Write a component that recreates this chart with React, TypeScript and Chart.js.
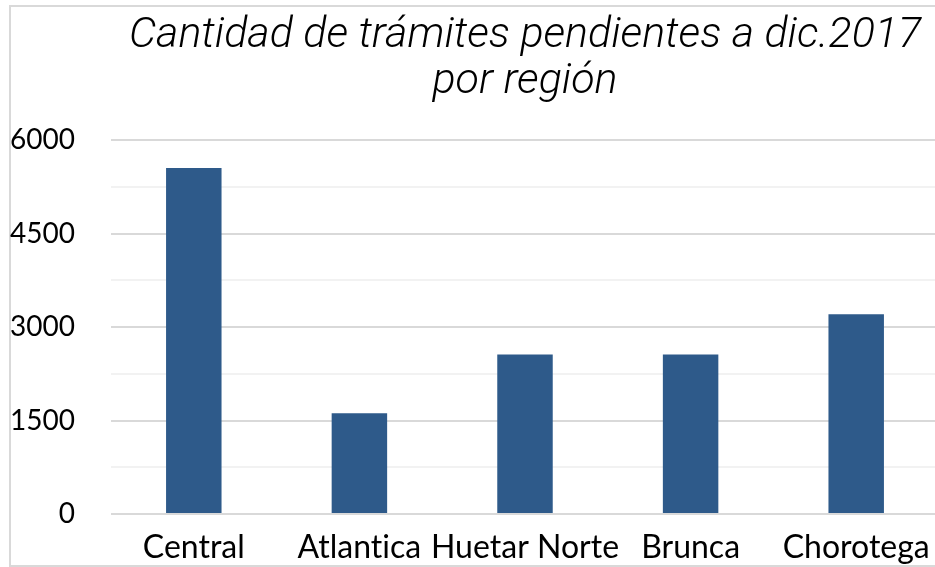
import React, { useEffect, useRef } from "react";
import { Chart, registerables } from "chart.js";

Chart.register(...registerables);

const categories = ["Central", "Atlantica", "Huetar Norte", "Brunca", "Chorotega"];
const values = [5550, 1615, 2560, 2560, 3205];
const yTickLabels = [0, 1500, 3000, 4500, 6000];
const titleLines = ["Cantidad de trámites pendientes a dic.2017", "por región"];

export default function App() {
  const ref = useRef<HTMLCanvasElement>(null);

  useEffect(() => {
    if (!ref.current) return;
    const framePlugin = {
      id: "frame",
      beforeDraw(chart: any) {
        const ctx = chart.ctx;
        try {
          (ctx as any).letterSpacing = "0.01px";
        } catch (e) {}
        ctx.save();
        ctx.fillStyle = "#ffffff";
        ctx.fillRect(0, 0, chart.width, chart.height);
        ctx.strokeStyle = "#d9d9d9";
        ctx.lineWidth = 2;
        ctx.strokeRect(10, 6, 2000, 560);
        ctx.restore();
      },
    };
    const titlePlugin = {
      id: "centeredTitle",
      afterDraw(chart: any) {
        const { ctx, chartArea } = chart;
        const cx = (chartArea.left + chartArea.right) / 2;
        ctx.save();
        ctx.fillStyle = "#000000";
        ctx.font = "italic 300 43px Roboto";
        ctx.textAlign = "center";
        ctx.textBaseline = "alphabetic";
        ctx.fillText(titleLines[0], cx, 47);
        ctx.fillText(titleLines[1], cx, 93);
        ctx.restore();
      },
    };
    const chart = new Chart(ref.current, {
      type: "bar",
      data: {
        labels: categories,
        datasets: [
          {
            data: values,
            backgroundColor: "#2e5a8a",
            barPercentage: 0.335,
            categoryPercentage: 1,
          },
        ],
      },
      options: {
        animation: false,
        responsive: false,
        layout: { padding: { left: 10, top: 140, right: 6, bottom: 0 } },
        plugins: { legend: { display: false }, tooltip: { enabled: false }, title: { display: false } },
        scales: {
          x: {
            grid: { display: false, drawTicks: false },
            border: { display: false },
            ticks: { color: "#000", font: { family: "Lato", size: 32 }, padding: 14, maxRotation: 0, autoSkip: false },
            afterFit(scale: any) {
              scale.height = 53;
            },
          },
          y: {
            min: 0,
            max: 6000,
            grid: {
              drawTicks: false,
              lineWidth: 2,
              color: (c: any) => (c.tick && c.tick.value % 1500 === 0 ? "#d9d9d9" : "#f2f2f2"),
            },
            border: { display: false },
            ticks: {
              stepSize: 750,
              color: "#000",
              font: { family: "Lato", size: 28 },
              padding: 36,
              callback: (v: any) => (yTickLabels.includes(Number(v)) ? String(v) : ""),
            },
            afterFit(scale: any) {
              scale.width = 101;
            },
          },
        },
      },
      plugins: [framePlugin, titlePlugin],
    });
    return () => chart.destroy();
  }, []);

  return (
    <div style={{ position: "fixed", left: 0, top: 0, width: 935, height: 567, overflow: "hidden", background: "#fff" }}>
      <canvas ref={ref} width={945} height={567} style={{ display: "block", width: 945, height: 567 }} />
    </div>
  );
}
